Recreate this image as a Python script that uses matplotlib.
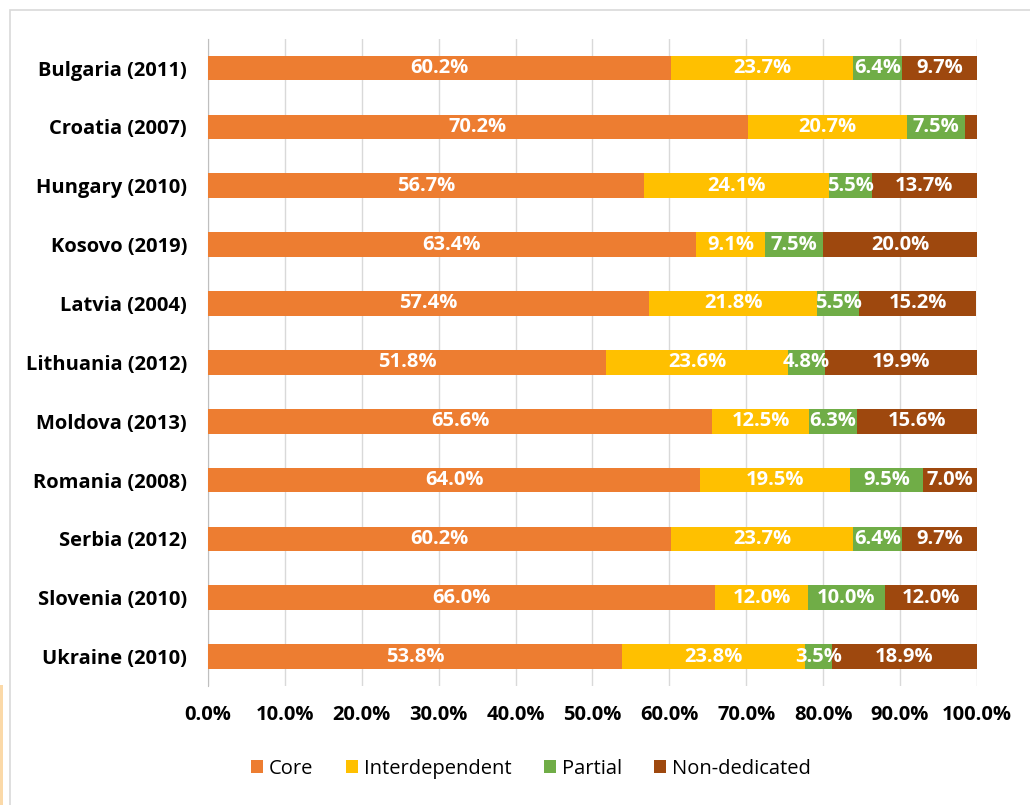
import numpy as np
import matplotlib.pyplot as plt
from matplotlib.patches import Rectangle

countries = ["Bulgaria (2011)", "Croatia (2007)", "Hungary (2010)", "Kosovo (2019)",
             "Latvia (2004)", "Lithuania (2012)", "Moldova (2013)", "Romania (2008)",
             "Serbia (2012)", "Slovenia (2010)", "Ukraine (2010)"]
core = [60.2, 70.2, 56.7, 63.4, 57.4, 51.8, 65.6, 64.0, 60.2, 66.0, 53.8]
interdependent = [23.7, 20.7, 24.1, 9.1, 21.8, 23.6, 12.5, 19.5, 23.7, 12.0, 23.8]
partial = [6.4, 7.5, 5.5, 7.5, 5.5, 4.8, 6.3, 9.5, 6.4, 10.0, 3.5]
non_dedicated = [9.7, 1.6, 13.7, 20.0, 15.2, 19.9, 15.6, 7.0, 9.7, 12.0, 18.9]

series = [("Core", core, "#ED7D31"),
          ("Interdependent", interdependent, "#FFC000"),
          ("Partial", partial, "#70AD47"),
          ("Non-dedicated", non_dedicated, "#9E480E")]

plt.rcParams['font.family'] = ['Open Sans', 'DejaVu Sans']

fig = plt.figure(figsize=(10.3, 8.05), dpi=100)
ax = fig.add_axes([0.2019, 0.1478, 0.7466, 0.8042])

# chart frame like the spreadsheet export
fig.patches.append(Rectangle((10 / 1030, -0.01), 1.1, 1 - 10 / 805 + 0.01,
                             transform=fig.transFigure, fill=False,
                             edgecolor="#d9d9d9", lw=1.2))
fig.patches.append(Rectangle((0, 0), 3 / 1030, 120 / 805, transform=fig.transFigure,
                             facecolor="#fbd9a8", edgecolor="none"))

y = np.arange(len(countries))
left = np.zeros(len(countries))
for name, vals, color in series:
    vals = np.array(vals)
    ax.barh(y, vals, left=left, height=0.42, color=color, label=name, zorder=3)
    for yi, (l, v) in enumerate(zip(left, vals)):
        if v >= 3:
            ax.text(l + v / 2, yi, f"{v:.1f}%", ha="center", va="center",
                    color="white", fontsize=14.5, fontweight="bold", zorder=4)
    left += vals

ax.set_xlim(0, 100)
ax.set_ylim(len(countries) - 0.5, -0.5)
ax.set_yticks(y)
ax.set_yticklabels(countries, fontsize=14.5, fontweight="bold")
ax.set_xticks(np.arange(0, 101, 10))
ax.set_xticklabels([f"{t:.1f}%" for t in np.arange(0, 101, 10)], fontsize=14.5, fontweight="bold")
ax.tick_params(length=0)
ax.tick_params(axis="y", pad=15)
ax.tick_params(axis="x", pad=14)
ax.grid(axis="x", color="#d9d9d9", lw=1, zorder=0)
for s in ["top", "right", "bottom"]:
    ax.spines[s].set_visible(False)
ax.spines["left"].set_color("#bfbfbf")

ax.legend(loc="center", bbox_to_anchor=(0.42, -0.128), ncol=4, frameon=False,
          fontsize=14.5, handlelength=0.6, handleheight=0.6, handletextpad=0.3,
          columnspacing=1.6)

fig.savefig("out.png", dpi=100)
